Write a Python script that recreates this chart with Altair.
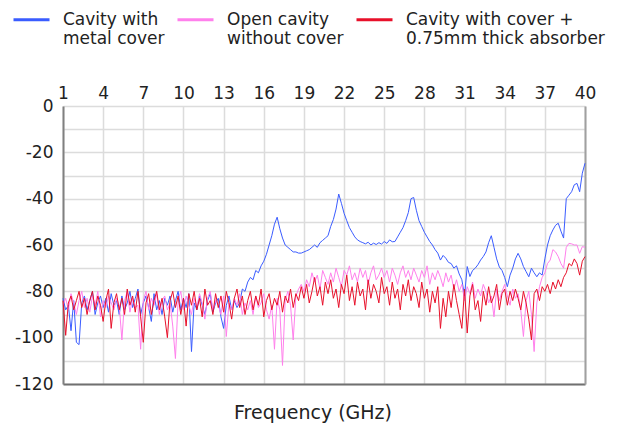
import altair as alt
import pandas as pd

# Frequency grid (GHz): 1.0 to 40.0 in 0.2 GHz steps
FREQ_START = 1.0
FREQ_STEP = 0.2
N_POINTS = 196
freq = [round(FREQ_START + FREQ_STEP * i, 1) for i in range(N_POINTS)]

# Cavity with metal cover (dB)
metal_cover = [
    -83, -88, -86, -97, -84, -102, -103, -85, -82, -88,
    -84, -80, -90, -85, -82, -87, -83, -89, -81, -86,
    -84, -90, -82, -88, -85, -80, -87, -83, -79, -90,
    -85, -82, -87, -93, -81, -88, -84, -90, -83, -86,
    -82, -89, -84, -80, -88, -83, -87, -81, -106, -85,
    -88, -82, -86, -90, -84, -81, -89, -85, -83, -91,
    -96, -86, -82, -88, -84, -87, -85, -79, -80, -76,
    -74, -75, -71, -72, -69, -67, -64, -60, -56, -51,
    -48, -53, -57, -60, -61, -62, -63, -63, -63.5, -63.5,
    -63, -62.5, -62, -61, -60, -61, -59, -58, -57, -56,
    -52, -49, -44.5, -38, -42, -46.3, -49.5, -52.5, -54.5, -56.5,
    -57.8, -58.5, -59, -59.5, -58.8, -60, -59.2, -59.8, -59, -59.6,
    -58.5, -59.3, -57.8, -58.6, -58.5, -56.5, -54.5, -52.5, -49.5, -46,
    -40, -39.5, -45, -49.5, -52, -54.5, -56.5, -58.5, -60, -62,
    -63.5, -66.5, -64.5, -65.7, -67.5, -68, -70, -69, -72.5, -75,
    -82, -69.3, -73.6, -71, -70, -68.5, -66.5, -65, -63, -59,
    -56, -61, -66, -69.5, -71, -74, -78, -73, -70, -66,
    -63.6, -66, -69.3, -71.5, -73.7, -70, -72, -73.7, -72, -73,
    -66, -60, -56, -53.5, -51.5, -50.6, -54, -57, -40, -38.5,
    -37, -34, -33.4, -37, -29, -24.7,
]

# Open cavity without cover (dB)
open_cavity = [
    -86, -83, -88, -81, -85, -90, -84, -80, -87, -83,
    -89, -82, -86, -80, -91, -84, -87, -82, -85, -88,
    -83, -86, -101, -84, -80, -89, -83, -87, -86, -105,
    -84, -80, -88, -83, -86, -81, -90, -84, -82, -88,
    -85, -95, -109, -84, -80, -88, -82, -86, -90, -83,
    -87, -81, -85, -92, -83, -80, -88, -84, -86, -90,
    -82, -99.5, -85, -88, -83, -86, -81, -90, -85, -88,
    -84, -90, -82, -87, -85, -81, -88, -92, -86, -105,
    -83, -88, -112, -84, -80, -86, -101, -82, -79, -77,
    -80, -75, -78, -72, -76, -73, -79, -71, -74, -77,
    -72, -76, -70, -74, -78, -71, -73, -69, -75, -72,
    -76, -70, -74, -71, -77, -72, -69, -75, -73, -70,
    -74, -71, -76, -70, -73, -77, -72, -69, -74, -71,
    -75, -70, -73, -76, -71, -74, -69, -77, -72, -75,
    -71, -74, -78, -72, -76, -73, -79, -75, -80, -77,
    -84, -78, -81, -76, -83, -79, -82, -77, -80, -85,
    -82, -91, -79, -84, -80, -77, -82, -86, -79, -83,
    -81, -88, -99.5, -84, -80, -90, -106, -85, -78, -74,
    -72, -68, -66.5, -62, -63, -65, -68, -70, -61, -59.3,
    -59.5, -60, -60, -63.6, -60.7, -61,
]

# Cavity with cover + 0.75mm thick absorber (dB)
absorber = [
    -84, -99, -85, -82, -88, -84, -80, -87, -83, -90,
    -84, -80, -88, -82, -86, -93, -84, -79, -96, -85,
    -81, -88, -83, -90, -79, -86, -82, -89, -80, -91,
    -102, -85, -81, -90, -84, -80, -88, -83, -91, -100,
    -84, -80, -87, -82, -90, -83, -95, -81, -86, -80,
    -88, -83, -91, -79, -86, -84, -90, -81, -87, -82,
    -89, -80, -85, -92, -83, -79, -87, -82, -90, -84,
    -80, -88, -82, -86, -79, -91, -84, -81, -88, -83,
    -86, -80, -89, -82, -85, -79, -87, -81, -84, -78,
    -83, -77, -85, -80, -74, -82, -78, -86, -76, -81,
    -75, -83, -79, -87, -77, -81, -73, -84, -78, -86,
    -76, -82, -79, -88, -75, -83, -77, -80, -85, -74,
    -81, -78, -86, -76, -83, -79, -88, -77, -82, -75,
    -84, -78, -81, -87, -76, -83, -79, -89, -80, -85,
    -78, -96, -83, -91, -80, -87, -77, -84, -90, -96,
    -79, -98, -82, -77, -88, -84, -93, -80, -86, -78,
    -85, -82, -77, -88, -81, -79, -86, -80, -84, -79,
    -83, -88, -80, -85, -92, -101, -81, -79, -84, -78,
    -80, -77, -81, -76, -79, -75, -78, -74, -72, -68,
    -69, -66, -68, -73, -67, -65,
]

series_names = [
    "Cavity with|metal cover",
    "Open cavity|without cover",
    "Cavity with cover +|0.75mm thick absorber",
]
series_values = [metal_cover, open_cavity, absorber]
series_colors = ["#3a5cff", "#ff80ec", "#e8102a"]
draw_order = [1, 0, 2]

x_ticks = list(range(1, 41, 3))
y_grid = list(range(-120, 1, 10))

rows = []
for name, vals, order in zip(series_names, series_values, draw_order):
    for f, v in zip(freq, vals):
        rows.append({"freq": f, "db": v, "series": name, "z": order})
df = pd.DataFrame(rows)

FONT = "DejaVu Sans"
TEXT = "#222222"

color = alt.Color(
    "series:N",
    sort=series_names,
    scale=alt.Scale(domain=series_names, range=series_colors),
    legend=alt.Legend(
        title=None,
        orient="none",
        legendX=-51,
        legendY=-106,
        direction="horizontal",
        columns=3,
        symbolType="stroke",
        symbolSize=1296,
        symbolStrokeWidth=3,
        labelExpr="split(datum.label, '|')",
        labelFont=FONT,
        labelFontSize=17,
        labelColor=TEXT,
        labelLimit=400,
        labelOffset=12,
        labelBaseline="middle",
        columnPadding=6,
        padding=0,
    ),
)

lines = alt.Chart(df).mark_line(strokeWidth=1, interpolate="linear").encode(
    x=alt.X(
        "freq:Q",
        scale=alt.Scale(domain=[1, 40], nice=False, zero=False),
        axis=alt.Axis(
            orient="top", values=x_ticks, title=None, domain=False, ticks=False,
            labelFont=FONT, labelFontSize=17, labelColor=TEXT, labelPadding=4,
            gridColor="#dcdcdc", gridWidth=1.5, labelFlush=False,
        ),
    ),
    y=alt.Y(
        "db:Q",
        scale=alt.Scale(domain=[-120, 0], nice=False),
        axis=alt.Axis(
            orient="left", values=y_grid, title=None, ticks=False,
            domainColor="#808080", domainWidth=2,
            labelExpr="datum.value % 20 == 0 ? toString(datum.value) : ''",
            labelFont=FONT, labelFontSize=17, labelColor=TEXT, labelPadding=10,
            gridColor="#dcdcdc", gridWidth=1.5,
        ),
    ),
    color=color,
    detail="series:N",
    order=alt.Order("z:Q"),
)

frame = alt.Chart(df).mark_line(opacity=0).encode(
    x=alt.X(
        "freq:Q",
        scale=alt.Scale(domain=[1, 40], nice=False, zero=False),
        axis=alt.Axis(orient="bottom", labels=False, ticks=False, grid=False, title=None,
                      domainColor="#707070", domainWidth=2),
    ),
    y=alt.Y(
        "db:Q",
        scale=alt.Scale(domain=[-120, 0], nice=False),
        axis=alt.Axis(orient="right", labels=False, ticks=False, grid=False, title=None,
                      domainColor="#a0a0a0", domainWidth=2),
    ),
    detail="series:N",
)

chart = (
    alt.layer(lines, frame)
    .resolve_axis(x="independent", y="independent")
    .properties(
        width=522,
        height=278,
        padding={"left": 55, "top": 98, "right": 33, "bottom": 40},
        autosize=alt.AutoSizeParams(type="none"),
        title=alt.TitleParams(
            "Frequency (GHz)", orient="bottom", anchor="middle", dx=-11,
            font=FONT, fontSize=19, fontWeight="normal", color=TEXT, offset=12,
        ),
    )
    .configure_view(stroke=None)
)

chart.save("out.html", embed_options={"renderer": "svg", "actions": False})
